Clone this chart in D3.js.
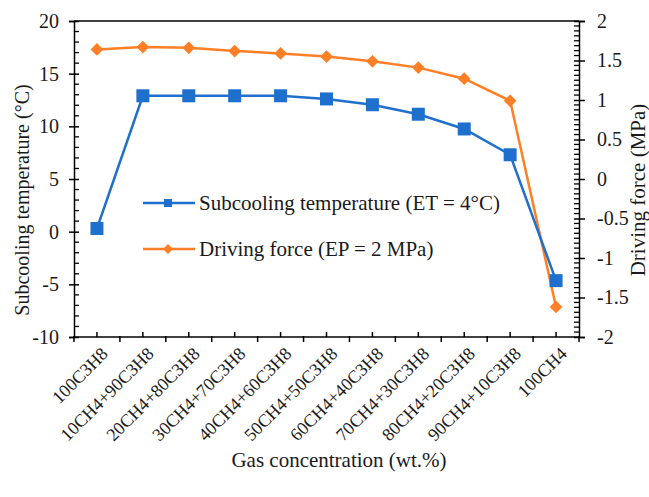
<!DOCTYPE html>
<html>
<head>
<meta charset="utf-8">
<script src="https://cdn.jsdelivr.net/npm/d3@7"></script>
<style>
  html, body { margin: 0; padding: 0; background: #fff; }
  svg { display: block; }
</style>
</head>
<body>
<svg id="chart" width="649" height="497"></svg>
<script>
// Gas mixtures (wt.%)
const categories = ["100C3H8", "10CH4+90C3H8", "20CH4+80C3H8", "30CH4+70C3H8", "40CH4+60C3H8",
  "50CH4+50C3H8", "60CH4+40C3H8", "70CH4+30C3H8", "80CH4+20C3H8", "90CH4+10C3H8", "100CH4"];
// Subcooling temperature (°C), left axis
const subcooling = [0.3, 12.9, 12.9, 12.9, 12.9, 12.6, 12.05, 11.15, 9.75, 7.3, -4.65];
// Driving force (MPa), right axis
const drivingForce = [1.64, 1.67, 1.66, 1.62, 1.59, 1.55, 1.49, 1.41, 1.27, 0.99, -1.62];
const leftTicks = [-10, -5, 0, 5, 10, 15, 20];
const rightTicks = [-2, -1.5, -1, -0.5, 0, 0.5, 1, 1.5, 2];
const rightTickLabels = ["-2", "-1.5", "-1", "-0.5", "0", "0.5", "1", "1.5", "2"];
const seriesNames = ["Subcooling temperature (ET = 4°C)", "Driving force (EP = 2 MPa)"];

const FONT = "'Liberation Serif', 'Times New Roman', serif";
const INK = "#1a1a1a";
const blue = "#1f70cc", orange = "#ff7f27";
const L = 74, R = 579, T = 21, B = 337;

const svg = d3.select("#chart").attr("font-family", FONT);
const x = d3.scaleBand().domain(categories).range([L, R]);
const yL = d3.scaleLinear().domain([-10, 20]).range([B, T]);
const yR = d3.scaleLinear().domain([-2, 2]).range([B, T]);
const cx = d => x(d) + x.bandwidth() / 2;

const styleText = sel => sel.attr("font-family", FONT).style("font-family", FONT).attr("fill", INK);

// top border of the plot box
svg.append("line").attr("x1", L).attr("x2", R).attr("y1", T).attr("y2", T)
  .attr("stroke", "#000").attr("stroke-width", 1.5);

// left axis: crossing major ticks, inner minor ticks every 1 °C
const gl = svg.append("g").attr("transform", `translate(${L},0)`)
  .call(d3.axisLeft(yL).tickValues(leftTicks).tickSize(5).tickPadding(10).tickFormat(d => String(d)));
gl.attr("font-family", FONT);
gl.select(".domain").attr("stroke", "#000").attr("stroke-width", 1.5);
gl.selectAll(".tick line").attr("x1", 5).attr("stroke-width", 1.5);
gl.selectAll(".tick text").style("font-size", "20px").call(styleText);
gl.selectAll(".minor").data(d3.range(-10, 20, 1).filter(v => v % 5 !== 0)).enter()
  .append("line").attr("x1", 0).attr("x2", 5).attr("y1", d => yL(d)).attr("y2", d => yL(d))
  .attr("stroke", "#000").attr("stroke-width", 1.3);

// right axis
const gr = svg.append("g").attr("transform", `translate(${R},0)`)
  .call(d3.axisRight(yR).tickValues(rightTicks).tickSize(6).tickPadding(12)
    .tickFormat((d, i) => rightTickLabels[i]));
gr.attr("font-family", FONT);
gr.select(".domain").attr("stroke", "#000").attr("stroke-width", 1.5);
gr.selectAll(".tick line").attr("x1", -5).attr("stroke-width", 1.5);
gr.selectAll(".tick text").style("font-size", "20px").call(styleText);
gr.selectAll(".minor").data(d3.range(0, 64).map(i => -2 + i * 0.0625).filter(v => Math.abs(v * 2 - Math.round(v * 2)) > 1e-6))
  .enter().append("line").attr("x1", -5).attr("x2", 0).attr("y1", d => yR(d)).attr("y2", d => yR(d))
  .attr("stroke", "#000").attr("stroke-width", 1.3);

// bottom axis: boundary ticks outside, centre ticks inside
const gb = svg.append("g").attr("transform", `translate(0,${B})`);
gb.append("line").attr("x1", L).attr("x2", R).attr("stroke", "#000").attr("stroke-width", 1.5);
const bounds = categories.map(c => x(c)).concat([R]);
gb.selectAll(".major").data(bounds).enter().append("line")
  .attr("x1", d => d).attr("x2", d => d).attr("y1", -1).attr("y2", 5)
  .attr("stroke", "#000").attr("stroke-width", 1.5);
gb.selectAll(".mid").data(categories).enter().append("line")
  .attr("x1", d => cx(d)).attr("x2", d => cx(d)).attr("y1", 0).attr("y2", -5)
  .attr("stroke", "#000").attr("stroke-width", 1.5);
gb.selectAll(".lab").data(categories).enter().append("text")
  .attr("transform", d => `translate(${cx(d) + 12},${18}) rotate(-45)`)
  .attr("text-anchor", "end")
  .style("font-size", "18px")
  .text(d => d)
  .call(styleText);

// axis titles
svg.append("text").attr("transform", `translate(29,200) rotate(-90)`).attr("text-anchor", "middle")
  .style("font-size", "20px").text("Subcooling temperature (°C)").call(styleText);
svg.append("text").attr("transform", `translate(645,190) rotate(-90)`).attr("text-anchor", "middle")
  .style("font-size", "21px").text("Driving force (MPa)").call(styleText);
svg.append("text").attr("x", 339).attr("y", 467).attr("text-anchor", "middle")
  .style("font-size", "21px").text("Gas concentration (wt.%)").call(styleText);

// series lines
const lineL = d3.line().x((d, i) => cx(categories[i])).y(d => yL(d));
const lineR = d3.line().x((d, i) => cx(categories[i])).y(d => yR(d));
svg.append("path").attr("d", lineR(drivingForce)).attr("fill", "none").attr("stroke", orange).attr("stroke-width", 2.5);
svg.append("path").attr("d", lineL(subcooling)).attr("fill", "none").attr("stroke", blue).attr("stroke-width", 2.5);

// markers
svg.selectAll(".dia").data(drivingForce).enter().append("rect")
  .attr("width", 9).attr("height", 9).attr("x", -4.5).attr("y", -4.5)
  .attr("transform", (d, i) => `translate(${cx(categories[i])},${yR(d)}) rotate(45)`)
  .attr("fill", orange);
svg.selectAll(".sq").data(subcooling).enter().append("rect")
  .attr("x", (d, i) => cx(categories[i]) - 6.5).attr("y", d => yL(d) - 6.5)
  .attr("width", 13).attr("height", 13).attr("fill", blue);

// legend
const lg = svg.append("g");
const legendRows = [{ y: 203, color: blue, shape: "sq" }, { y: 249, color: orange, shape: "dia" }];
legendRows.forEach((r, i) => {
  lg.append("line").attr("x1", 143).attr("x2", 195).attr("y1", r.y).attr("y2", r.y)
    .attr("stroke", r.color).attr("stroke-width", 2.5);
  if (r.shape === "sq") {
    lg.append("rect").attr("x", 164).attr("y", r.y - 4).attr("width", 8).attr("height", 8).attr("fill", r.color);
  } else {
    lg.append("rect").attr("x", -3.5).attr("y", -3.5).attr("width", 7).attr("height", 7)
      .attr("transform", `translate(168,${r.y}) rotate(45)`).attr("fill", r.color);
  }
  lg.append("text").attr("x", 199).attr("y", r.y + 7).style("font-size", "21px").text(seriesNames[i]).call(styleText);
});
</script>
</body>
</html>
